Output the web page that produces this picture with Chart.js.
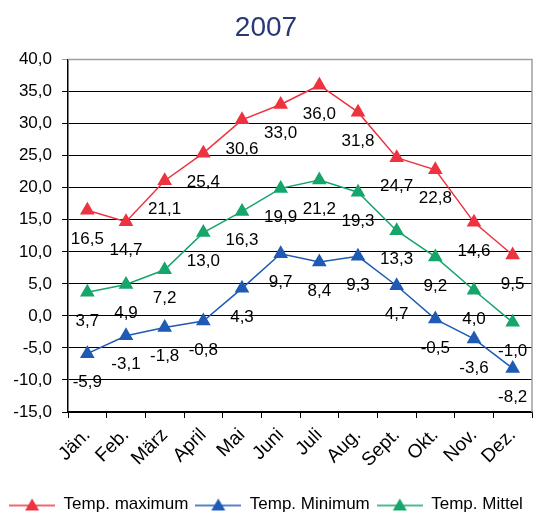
<!DOCTYPE html>
<html><head><meta charset="utf-8">
<script src="https://cdn.jsdelivr.net/npm/chart.js@4/dist/chart.umd.min.js"></script>
<style>html,body{margin:0;padding:0;background:#fff}#c{display:block}</style>
</head><body>
<canvas id="c" width="555" height="518"></canvas>
<script>
const categories = ["Jän.","Feb.","März","April","Mai","Juni","Juli","Aug.","Sept.","Okt.","Nov.","Dez."];
const tempMax = [16.5,14.7,21.1,25.4,30.6,33.0,36.0,31.8,24.7,22.8,14.6,9.5];
const tempMin = [-5.9,-3.1,-1.8,-0.8,4.3,9.7,8.4,9.3,4.7,-0.5,-3.6,-8.2];
const tempMittel = [3.7,4.9,7.2,13.0,16.3,19.9,21.2,19.3,13.3,9.2,4.0,-1.0];
const seriesNames = ["Temp. maximum","Temp. Minimum","Temp. Mittel"];
const yTicks = {min:-15,max:40,step:5};

const colors = ["#ee3340","#1f5ab4","#16a56b"];
const FONT = "'Liberation Sans', Arial, sans-serif";
const fmt = v => v.toFixed(1).replace('.', ',');

function legendImg(color){
  const cv = document.createElement('canvas');
  cv.width = 46; cv.height = 14;
  const g = cv.getContext('2d');
  g.strokeStyle = color; g.lineWidth = 1.5;
  g.beginPath(); g.moveTo(0,8); g.lineTo(46,8); g.stroke();
  g.fillStyle = color;
  g.beginPath(); g.moveTo(23,1); g.lineTo(30,13); g.lineTo(16,13); g.closePath(); g.fill();
  return cv;
}

const labelPlugin = {
  id:'valLabels',
  afterDatasetsDraw(chart){
    const ctx = chart.ctx;
    ctx.save();
    ctx.font = "17px " + FONT;
    ctx.fillStyle = "#000";
    ctx.textAlign = "center";
    ctx.textBaseline = "middle";
    chart.data.datasets.forEach((ds,i)=>{
      const meta = chart.getDatasetMeta(i);
      meta.data.forEach((pt,j)=>{
        ctx.fillText(fmt(ds.data[j]), pt.x, pt.y + 29);
      });
    });
    ctx.restore();
  }
};
const borderPlugin = {
  id:'grayBorder',
  beforeDatasetsDraw(chart){
    const a = chart.chartArea, ctx = chart.ctx;
    ctx.save();
    ctx.strokeStyle = "#a0a0a0"; ctx.lineWidth = 1.5;
    ctx.beginPath();
    ctx.moveTo(a.left, a.top); ctx.lineTo(a.right, a.top); ctx.lineTo(a.right, a.bottom);
    ctx.stroke();
    ctx.restore();
  }
};

const data = [tempMax, tempMin, tempMittel];
new Chart(document.getElementById('c'), {
  type:'line',
  data:{
    labels: categories,
    datasets: data.map((d,i)=>({
      label: seriesNames[i],
      data: d,
      borderColor: colors[i],
      backgroundColor: colors[i],
      borderWidth: 1.5,
      pointStyle: 'triangle',
      pointRadius: 7,
      pointHoverRadius: 7,
      tension: 0,
      fill: false
    }))
  },
  options:{
    responsive:false,
    animation:false,
    events:[],
    layout:{padding:{left:0,right:23,top:0,bottom:-5}},
    plugins:{
      title:{display:true,text:"2007",color:"#283878",font:{family:FONT,size:28,weight:'normal'},padding:{top:11,bottom:15}},
      legend:{
        position:'bottom',
        labels:{
          usePointStyle:true,
          pointStyleWidth:46,
          color:"#000",
          font:{family:FONT,size:17},
          padding:7,
          generateLabels(chart){
            return chart.data.datasets.map((ds,i)=>({
              text: ds.label,
              pointStyle: legendImg(colors[i]),
              fillStyle: colors[i],
              strokeStyle: colors[i],
              lineWidth: 0,
              datasetIndex: i,
              hidden:false,
              fontColor:"#000"
            }));
          }
        }
      },
      tooltip:{enabled:false}
    },
    scales:{
      x:{
        offset:true,
        afterFit(s){ s.height = 77; },
        grid:{display:true,drawOnChartArea:false,drawTicks:true,tickLength:6,color:"#000",offset:true},
        border:{color:"#000",width:1.5},
        ticks:{color:"#000",font:{family:FONT,size:19},minRotation:45,maxRotation:45,padding:6,autoSkip:false}
      },
      y:{
        min:yTicks.min,max:yTicks.max,
        afterFit(s){ s.width = 68; },
        grid:{color:(c)=> c.tick && c.tick.value===yTicks.max ? "#a0a0a0" : "#000", lineWidth:1, tickLength:6, drawTicks:true},
        border:{color:"#000",width:1.5},
        ticks:{stepSize:yTicks.step,color:"#000",font:{family:FONT,size:17},padding:10,callback:v=>fmt(v)}
      }
    }
  },
  plugins:[borderPlugin,labelPlugin]
});
</script>
</body></html>
